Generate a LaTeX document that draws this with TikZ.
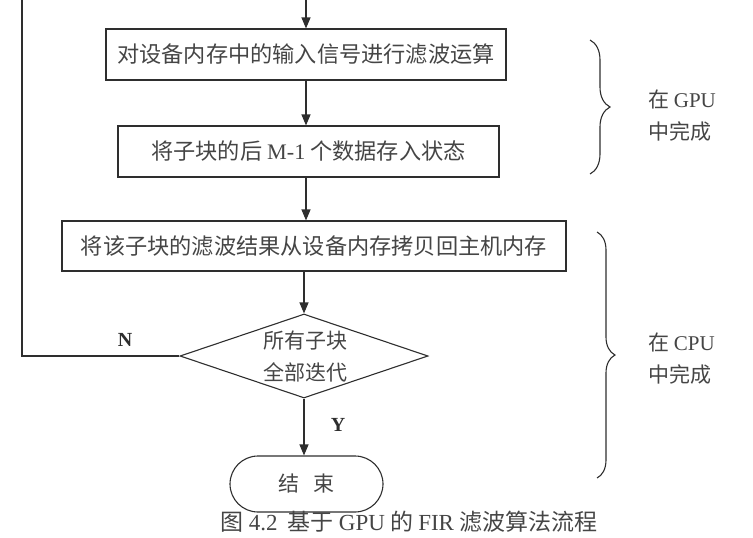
\documentclass[tikz,border=0pt]{standalone}
\usepackage{fontspec}
\setmainfont{Noto Sans CJK SC}
\newfontfamily\lat{Liberation Serif}
\usetikzlibrary{arrows.meta,shapes.geometric,decorations.pathreplacing}
\definecolor{ink}{HTML}{2E2E2E}
\definecolor{txt}{HTML}{454545}
\begin{document}
\begin{tikzpicture}[x=1pt,y=-1pt,
  box/.style={draw=ink,line width=1.1pt,inner sep=0pt,minimum height=51pt,
    font=\fontsize{22.2}{26}\selectfont,text=txt},
  arr/.style={draw=ink,line width=1.1pt,-{Triangle[length=11pt,width=9pt]}},
  ln/.style={draw=ink,line width=1.1pt},
  bracestyle/.style={draw=ink,line width=1.1pt,decorate},
  sidelabel/.style={anchor=west,align=left,inner sep=0pt,text=txt,
    font=\fontsize{21}{32}\selectfont},
  yn/.style={inner sep=0pt,text=ink,font=\lat\bfseries\fontsize{20}{24}\selectfont}]
\useasboundingbox (0,0) rectangle (753,538);

\coordinate (top) at (306,0);
\coordinate (looptop) at (22,0);
\coordinate (loopcorner) at (22,356);

\node[box,minimum width=400pt] (b1) at (306,54.5)
  {对设备内存中的输入信号进行滤波运算};
\node[box,minimum width=381pt] (b2) at (308.5,151.5)
  {将子块的后 {\lat M-1} 个数据存入状态};
\node[box,minimum width=504pt,minimum height=50pt] (b3) at (314,246)
  {将该子块的滤波结果从设备内存拷贝回主机内存};
\node[diamond,draw=ink,line width=1.1pt,minimum width=248pt,minimum height=84pt,
  inner sep=0pt,aspect=2.95] (dec) at (304,356) {};
\node[align=center,inner sep=0pt,text=txt,font=\fontsize{21}{32}\selectfont]
  (dectext) at (305,357) {所有子块\\全部迭代};
\node[draw=ink,line width=1.1pt,rounded corners=28pt,minimum width=153pt,
  minimum height=56pt,inner sep=0pt,text=txt,font=\fontsize{21}{25}\selectfont]
  (end) at (306.5,484) {结\hspace{14pt}束};

\draw[arr] (top) -- (top |- b1.north);
\draw[arr] (b1.south -| top) -- (top |- b2.north);
\draw[arr] (b2.south -| top) -- (top |- b3.north);
\draw[arr] (b3.south -| dec.north) -- (dec.north);
\draw[arr] (dec.south) -- (end.north -| dec.south);
\draw[ln] (dec.west) -- (loopcorner) -- (looptop);

\node[yn] (nlab) at (125,340) {N};
\node[yn] (ylab) at (338,425) {Y};

\draw[bracestyle,decoration={brace,amplitude=20pt}] (590,40) -- (590,174);
\draw[bracestyle,decoration={brace,amplitude=18pt}] (597,232) -- (597,478);

\node[sidelabel] (gpu) at (648,116) {在 {\lat GPU}\\中完成};
\node[sidelabel] (cpu) at (648,359) {在 {\lat CPU}\\中完成};

\node[inner sep=0pt,text=txt,font=\fontsize{23}{27}\selectfont] (cap) at (409,522)
  {图 {\lat 4.2}\hspace{5pt} 基于 {\lat GPU} 的 {\lat FIR} 滤波算法流程};
\end{tikzpicture}
\end{document}
